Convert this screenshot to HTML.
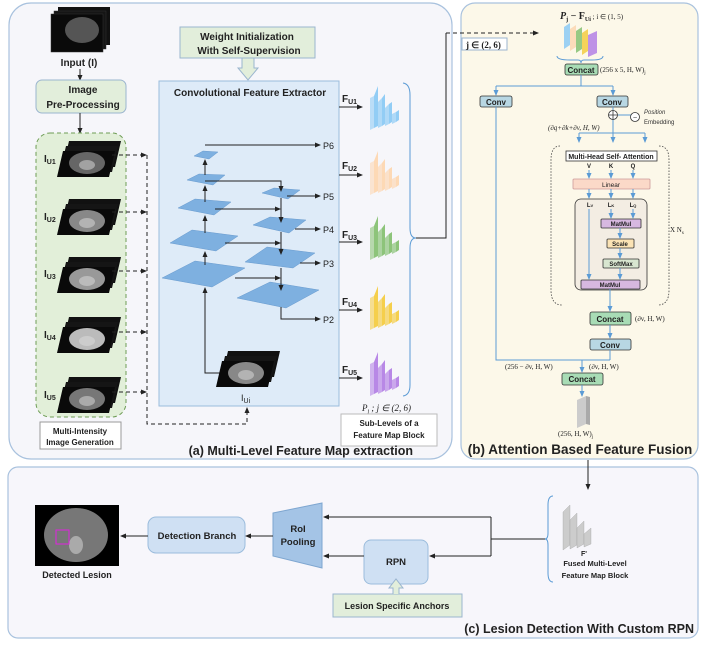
<!DOCTYPE html>
<html><head><meta charset="utf-8"><style>
html,body{margin:0;padding:0;background:#fff}
svg{display:block;font-family:"Liberation Sans",sans-serif}
</style></head><body>
<svg width="706" height="645" viewBox="0 0 706 645" xmlns="http://www.w3.org/2000/svg">
<defs>
<marker id="ar" markerWidth="6" markerHeight="6" refX="5" refY="3" orient="auto" markerUnits="userSpaceOnUse"><path d="M0,0.5 L6,3 L0,5.5 z" fill="#222"/></marker>
<marker id="ab" markerWidth="6" markerHeight="6" refX="5" refY="3" orient="auto" markerUnits="userSpaceOnUse"><path d="M0,0.5 L6,3 L0,5.5 z" fill="#5b9bd5"/></marker>
<g id="fb">
 <path d="M0,12 L4,10 L4,42 L0,44z" fill="currentColor" opacity="0.6"/>
 <path d="M4,10 L8,0 L8,40 L4,42z" fill="currentColor"/>
 <path d="M8,16 L12,12 L12,40 L8,42z" fill="currentColor" opacity="0.7"/>
 <path d="M12,12 L15,8 L15,38 L12,40z" fill="currentColor"/>
 <path d="M15,22 L19,18 L19,38 L15,40z" fill="currentColor" opacity="0.7"/>
 <path d="M19,18 L22,16 L22,36 L19,38z" fill="currentColor"/>
 <path d="M22,28 L26,26 L26,36 L22,38z" fill="currentColor" opacity="0.7"/>
 <path d="M26,26 L29,24 L29,34 L26,36z" fill="currentColor"/>
</g>
<g id="ct">
 <path d="M6,0 L58,0 L52,26 L0,26z" fill="#111"/>
 <path d="M3,5 L55,5 L49,31 L-3,31z" fill="#151515"/>
 <path d="M0,10 L52,10 L46,36 L-6,36z" fill="#0a0a0a"/>
 <ellipse cx="24" cy="22" rx="18" ry="11" fill="currentColor"/>
 <ellipse cx="24" cy="24" rx="8" ry="5" fill="#ddd" opacity="0.5"/>
</g>
</defs>

<!-- Panel a -->
<rect x="9" y="3" width="443" height="456" rx="22" fill="#f6f6fa" stroke="#a9c2de" stroke-width="1.2"/>
<!-- Panel b -->
<rect x="461" y="3" width="237" height="456" rx="14" fill="#fcf8e9" stroke="#a9c2de" stroke-width="1.2"/>
<!-- Panel c -->
<rect x="8" y="467" width="690" height="171" rx="10" fill="#f7f6fb" stroke="#a9c2de" stroke-width="1.2"/>

<!-- Input -->
<rect x="58" y="7" width="52" height="38" fill="#111"/>
<rect x="54" y="11" width="52" height="38" fill="#151515" stroke="#333" stroke-width="0.5"/>
<rect x="51" y="14" width="52" height="38" fill="#0a0a0a" stroke="#333" stroke-width="0.5"/>
<ellipse cx="82" cy="30" rx="17" ry="13" fill="#555"/>
<text x="79" y="66" font-size="10" font-weight="bold" text-anchor="middle" fill="#222">Input (I)</text>
<line x1="80" y1="69" x2="80" y2="80" stroke="#222" marker-end="url(#ar)"/>
<rect x="36" y="80" width="90" height="33" rx="6" fill="#e2eedb" stroke="#9bb5cf"/>
<text x="83" y="93" font-size="10" font-weight="bold" text-anchor="middle" fill="#222">Image</text>
<text x="83" y="108" font-size="10" font-weight="bold" text-anchor="middle" fill="#222">Pre-Processing</text>
<line x1="80" y1="113" x2="80" y2="133" stroke="#222" marker-end="url(#ar)"/>
<rect x="36" y="133" width="90" height="284" rx="14" fill="#e2efd9" stroke="#6e9c55" stroke-dasharray="4,3"/>
<g font-size="10" font-weight="bold" fill="#222">
<text x="44" y="162">I<tspan font-size="7" dy="2">U1</tspan></text>
<text x="44" y="220">I<tspan font-size="7" dy="2">U2</tspan></text>
<text x="44" y="277">I<tspan font-size="7" dy="2">U3</tspan></text>
<text x="44" y="338">I<tspan font-size="7" dy="2">U4</tspan></text>
<text x="44" y="398">I<tspan font-size="7" dy="2">U5</tspan></text>
</g>
<use href="#ct" x="63" y="141" color="#666"/>
<use href="#ct" x="63" y="199" color="#888"/>
<use href="#ct" x="63" y="257" color="#999"/>
<use href="#ct" x="63" y="317" color="#bbb"/>
<use href="#ct" x="63" y="377" color="#777"/>
<g stroke="#222" stroke-dasharray="4,3" fill="none">
<line x1="112" y1="155" x2="146" y2="155" marker-end="url(#ar)"/>
<line x1="112" y1="212" x2="146" y2="212" marker-end="url(#ar)"/>
<line x1="112" y1="271" x2="146" y2="271" marker-end="url(#ar)"/>
<line x1="112" y1="332" x2="146" y2="332" marker-end="url(#ar)"/>
<line x1="112" y1="392" x2="146" y2="392" marker-end="url(#ar)"/>
<polyline points="147,155 147,424 247,424 247,408" marker-end="url(#ar)"/>
</g>
<rect x="40" y="422" width="81" height="27" fill="#fff" stroke="#999"/>
<text x="80" y="434" font-size="8" font-weight="bold" text-anchor="middle" fill="#222">Multi-Intensity</text>
<text x="80" y="445" font-size="8" font-weight="bold" text-anchor="middle" fill="#222">Image Generation</text>

<!-- Weight init -->
<rect x="180" y="27" width="135" height="31" fill="#e2eedb" stroke="#9bb5cf"/>
<text x="247" y="40" font-size="10" font-weight="bold" text-anchor="middle" fill="#222">Weight Initialization</text>
<text x="249" y="54" font-size="10" font-weight="bold" text-anchor="middle" fill="#222">With Self-Supervision</text>
<path d="M242,58 L254,58 L254,68 L258,68 L248,80 L238,68 L242,68z" fill="#e2eedb" stroke="#9bb5cf"/>

<!-- Conv extractor -->
<rect x="159" y="81" width="180" height="325" fill="#deebf8" stroke="#9bbcdc"/>
<text x="250" y="96" font-size="10" font-weight="bold" text-anchor="middle" fill="#222">Convolutional Feature Extractor</text>
<g fill="#7eb0e0" stroke="#5a8fc6" stroke-width="0.4">
<polygon points="194,156 203,151 218,152 209,159"/>
<polygon points="187,180 199,174 225,175 213,185"/>
<polygon points="178,208 195,199 231,202 214,215"/>
<polygon points="170,243 192,230 238,236 216,251"/>
<polygon points="162,278 195,261 245,268 212,287"/>
<polygon points="262,193 274,188 300,190 288,199"/>
<polygon points="253,225 270,217 306,220 289,233"/>
<polygon points="245,262 267,247 315,253 293,268"/>
<polygon points="237,298 270,282 319,290 286,308"/>
</g>
<g stroke="#222" fill="none" stroke-width="1">
<polyline points="205,145 320,145" marker-end="url(#ar)"/>
<line x1="205" y1="175" x2="205" y2="160" marker-end="url(#ar)"/>
<line x1="205" y1="202" x2="205" y2="186" marker-end="url(#ar)"/>
<line x1="205" y1="233" x2="205" y2="216" marker-end="url(#ar)"/>
<line x1="205" y1="265" x2="205" y2="252" marker-end="url(#ar)"/>
<polyline points="220,373 205,373 205,288" marker-end="url(#ar)"/>
<polyline points="205,181 281,181 281,191" marker-end="url(#ar)"/>
<polyline points="215,209 280,209" marker-end="url(#ar)"/>
<polyline points="225,243 280,243" marker-end="url(#ar)"/>
<polyline points="235,278 280,278" marker-end="url(#ar)"/>
<line x1="281" y1="198" x2="281" y2="222" marker-end="url(#ar)"/>
<line x1="281" y1="232" x2="281" y2="254" marker-end="url(#ar)"/>
<line x1="281" y1="268" x2="281" y2="290" marker-end="url(#ar)"/>
<line x1="287" y1="196" x2="320" y2="196" marker-end="url(#ar)"/>
<line x1="295" y1="229" x2="320" y2="229" marker-end="url(#ar)"/>
<line x1="300" y1="263" x2="320" y2="263" marker-end="url(#ar)"/>
<polyline points="281,307 281,319 320,319" marker-end="url(#ar)"/>
</g>
<g font-size="9" fill="#222">
<text x="323" y="149">P6</text><text x="323" y="200">P5</text><text x="323" y="233">P4</text><text x="323" y="267">P3</text><text x="323" y="323">P2</text>
</g>
<use href="#ct" x="222" y="351" color="#888"/>
<text x="241" y="401" font-size="9" fill="#222">I<tspan font-size="7" dy="2">Ui</tspan></text>

<!-- F_U -->
<g font-size="10" font-weight="bold" fill="#222">
<text x="342" y="102">F<tspan font-size="7" dy="2">U1</tspan></text>
<text x="342" y="169">F<tspan font-size="7" dy="2">U2</tspan></text>
<text x="342" y="238">F<tspan font-size="7" dy="2">U3</tspan></text>
<text x="342" y="305">F<tspan font-size="7" dy="2">U4</tspan></text>
<text x="342" y="373">F<tspan font-size="7" dy="2">U5</tspan></text>
</g>
<g stroke="#222"><line x1="339" y1="107" x2="362" y2="107" marker-end="url(#ar)"/>
<line x1="339" y1="175" x2="362" y2="175" marker-end="url(#ar)"/>
<line x1="339" y1="242" x2="362" y2="242" marker-end="url(#ar)"/>
<line x1="339" y1="310" x2="362" y2="310" marker-end="url(#ar)"/>
<line x1="339" y1="378" x2="362" y2="378" marker-end="url(#ar)"/></g>
<use href="#fb" x="370" y="86" color="#92cdf5"/>
<use href="#fb" x="370" y="151" color="#fdd9b5"/>
<use href="#fb" x="370" y="216" color="#8dc47a"/>
<use href="#fb" x="370" y="286" color="#f5cf4c"/>
<use href="#fb" x="370" y="352" color="#b888e6"/>
<path d="M403,83 Q410,84 410,95 L410,228 Q410,238 416,238 Q410,238 410,248 L410,385 Q410,395 403,396" fill="none" stroke="#5b9bd5"/>
<polyline points="416,238 446,238 446,33" fill="none" stroke="#222"/>
<line x1="446" y1="33" x2="538" y2="33" stroke="#222" stroke-dasharray="4,3" marker-end="url(#ar)"/>
<rect x="462" y="38" width="45" height="12" fill="#fff" stroke="#9bb5cf"/>
<text x="466" y="48" font-size="9" font-weight="bold" fill="#222" font-family="Liberation Serif">j ∈ (2, 6)</text>
<text x="362" y="411" font-size="9" font-style="italic" fill="#222" font-family="Liberation Serif">P<tspan font-size="6" dy="2">j</tspan><tspan dy="-2"> ; j ∈ (2, 6)</tspan></text>
<rect x="341" y="414" width="96" height="32" fill="#fff" stroke="#bbb"/>
<text x="389" y="426" font-size="8" font-weight="bold" text-anchor="middle" fill="#222">Sub-Levels of a</text>
<text x="389" y="438" font-size="8" font-weight="bold" text-anchor="middle" fill="#222">Feature Map Block</text>
<text x="413" y="455" font-size="12.5" font-weight="bold" text-anchor="end" fill="#222">(a) Multi-Level Feature Map extraction</text>

<!-- Panel b contents -->
<text x="560" y="19" font-size="10" font-weight="bold" fill="#222" font-family="Liberation Serif"><tspan font-style="italic">P</tspan><tspan font-size="6" dy="2">j</tspan><tspan dy="-2"> − F</tspan><tspan font-size="6" dy="2">Ui</tspan><tspan dy="-2" font-size="7" font-weight="normal">   ; i ∈ (1, 5)</tspan></text>
<g opacity="0.9">
<path d="M564,27 L570,23 L570,45 L564,49z" fill="#92cdf5"/>
<path d="M570,29 L576,25 L576,47 L570,51z" fill="#fdd9b5"/>
<path d="M576,31 L582,27 L582,49 L576,53z" fill="#8dc47a"/>
<path d="M582,33 L588,29 L588,51 L582,55z" fill="#f5cf4c"/>
<path d="M588,35 L597,31 L597,53 L588,57z" fill="#b888e6"/>
</g>
<path d="M557,56 Q557,60 570,60 L578,60 Q581,60 581,63 Q581,60 584,60 L592,60 Q603,60 603,56" fill="none" stroke="#5b9bd5"/>
<g stroke="#333" stroke-width="0.8">
<rect x="565" y="64" width="33" height="11" rx="2" fill="#a8dcb5"/>
<rect x="480" y="96" width="32" height="11" rx="2" fill="#b8d7e3"/>
<rect x="597" y="96" width="31" height="11" rx="2" fill="#b8d7e3"/>
<rect x="566" y="151" width="91" height="10" fill="#fff"/>
<rect x="573" y="179" width="77" height="10" rx="1" fill="#fbd9c8" stroke="#c99"/>
<rect x="575" y="199" width="72" height="91" rx="6" fill="#f3ede3"/>
<rect x="601" y="219" width="40" height="9" rx="1" fill="#d7b8e0"/>
<rect x="607" y="239" width="27" height="9" rx="1" fill="#fbe3b5"/>
<rect x="603" y="259" width="36" height="9" rx="1" fill="#d8e6d0"/>
<rect x="581" y="280" width="59" height="9" rx="1" fill="#d7b8e0"/>
<rect x="590" y="312" width="41" height="13" rx="2" fill="#a8dcb5"/>
<rect x="590" y="339" width="41" height="11" rx="2" fill="#b8d7e3"/>
<rect x="562" y="373" width="41" height="12" rx="2" fill="#a8dcb5"/>
</g>
<g font-size="8" font-weight="bold" fill="#222" text-anchor="middle">
<text x="581" y="73">Concat</text><text x="496" y="105">Conv</text><text x="612" y="105">Conv</text>
<text x="611" y="159" font-size="7">Multi-Head Self- Attention</text>
<text x="611" y="187" font-size="6.5" font-weight="normal">Linear</text>
<text x="621" y="226" font-size="6">MatMul</text><text x="620" y="246" font-size="6">Scale</text>
<text x="621" y="266" font-size="6">SoftMax</text><text x="610" y="287" font-size="6">MatMul</text>
<text x="610" y="322">Concat</text><text x="610" y="348">Conv</text><text x="582" y="382">Concat</text>
<text x="589" y="168" font-size="6">V</text><text x="611" y="168" font-size="6">K</text><text x="633" y="168" font-size="6">Q</text>
<text x="590" y="207" font-size="6">L<tspan font-size="4">V</tspan></text><text x="611" y="207" font-size="6">L<tspan font-size="4">K</tspan></text><text x="633" y="207" font-size="6">L<tspan font-size="4">Q</tspan></text>
</g>
<g font-family="Liberation Serif" font-size="7" fill="#222">
<text x="600" y="72">(256 x 5, H, W)<tspan font-size="5" dy="2">j</tspan></text>
<text x="548" y="130" font-style="italic">(∂q+∂k+∂v, H, W)</text>
<text x="635" y="321">(∂v, H, W)</text>
<text x="505" y="369">(256 − ∂v, H, W)</text>
<text x="589" y="369">(∂v, H, W)</text>
<text x="558" y="436">(256, H, W)<tspan font-size="5" dy="2">j</tspan></text>
<text x="670" y="232">X N<tspan font-size="5" dy="2">s</tspan></text>
</g>
<text x="644" y="114" font-size="6" font-style="italic" fill="#333">Position</text>
<text x="644" y="124" font-size="6" fill="#333">Embedding</text>
<g stroke="#5b9bd5" fill="none" stroke-width="1">
<polyline points="581,75 581,86"/>
<line x1="496" y1="86" x2="613" y2="86"/>
<line x1="496" y1="86" x2="496" y2="95" marker-end="url(#ab)"/>
<line x1="613" y1="86" x2="613" y2="95" marker-end="url(#ab)"/>
<line x1="613" y1="107" x2="613" y2="133"/>
<line x1="618" y1="115" x2="631" y2="115"/>
<line x1="579" y1="133" x2="645" y2="133"/>
<line x1="579" y1="133" x2="579" y2="142" marker-end="url(#ab)"/>
<line x1="613" y1="133" x2="613" y2="142" marker-end="url(#ab)"/>
<line x1="645" y1="133" x2="645" y2="142" marker-end="url(#ab)"/>
<line x1="589" y1="170" x2="589" y2="178" marker-end="url(#ab)"/>
<line x1="611" y1="170" x2="611" y2="178" marker-end="url(#ab)"/>
<line x1="633" y1="170" x2="633" y2="178" marker-end="url(#ab)"/>
<line x1="589" y1="189" x2="589" y2="198" marker-end="url(#ab)"/>
<line x1="611" y1="189" x2="611" y2="198" marker-end="url(#ab)"/>
<line x1="633" y1="189" x2="633" y2="198" marker-end="url(#ab)"/>
<line x1="589" y1="209" x2="589" y2="279" marker-end="url(#ab)"/>
<line x1="611" y1="209" x2="611" y2="218" marker-end="url(#ab)"/>
<line x1="633" y1="209" x2="633" y2="218" marker-end="url(#ab)"/>
<line x1="620" y1="228" x2="620" y2="238" marker-end="url(#ab)"/>
<line x1="620" y1="248" x2="620" y2="258" marker-end="url(#ab)"/>
<line x1="620" y1="268" x2="620" y2="279" marker-end="url(#ab)"/>
<line x1="610" y1="289" x2="610" y2="311" marker-end="url(#ab)"/>
<line x1="610" y1="325" x2="610" y2="338" marker-end="url(#ab)"/>
<polyline points="610,350 610,360"/>
<polyline points="496,107 496,360 610,360"/>
<line x1="582" y1="360" x2="582" y2="372" marker-end="url(#ab)"/>
<line x1="582" y1="385" x2="582" y2="396" marker-end="url(#ab)"/>
</g>
<circle cx="613" cy="115" r="4.5" fill="#fff" stroke="#333" stroke-width="0.8"/>
<path d="M608.5,115 H617.5 M613,110.5 V119.5" stroke="#333" stroke-width="0.8"/>
<circle cx="635" cy="117" r="4.5" fill="#fff" stroke="#333" stroke-width="0.8"/>
<text x="635" y="120" font-size="7" text-anchor="middle" fill="#333">~</text>
<path d="M560,146 Q551,146 551,160 L551,290 Q551,305 562,305" fill="none" stroke="#444" stroke-dasharray="1.5,1.5" stroke-width="0.8"/>
<path d="M659,146 Q669,146 669,160 L669,290 Q669,305 658,305" fill="none" stroke="#444" stroke-dasharray="1.5,1.5" stroke-width="0.8"/>
<path d="M577,400 L586,396 L586,424 L577,428z" fill="#ccc"/><path d="M586,396 L590,397 L590,425 L586,424z" fill="#aaa"/>
<text x="580" y="454" font-size="13.5" font-weight="bold" text-anchor="middle" fill="#222">(b) Attention Based Feature Fusion</text>

<!-- Panel c -->
<line x1="588" y1="460" x2="588" y2="489" stroke="#222" marker-end="url(#ar)"/>
<path d="M553,496 Q548,496 548,505 L548,533 Q548,539 545,539 Q548,539 548,545 L548,573 Q548,582 553,582" fill="none" stroke="#5b9bd5"/>
<g fill="#ccc" stroke="#999" stroke-width="0.3">
<path d="M563,512 L570,505 L570,545 L563,550z"/>
<path d="M570,520 L577,513 L577,545 L570,549z"/>
<path d="M577,528 L584,521 L584,544 L577,548z"/>
<path d="M584,534 L591,528 L591,544 L584,547z"/>
</g>
<text x="584" y="556" font-size="7" font-weight="bold" text-anchor="middle" fill="#222">F'</text>
<text x="595" y="566" font-size="7.5" font-weight="bold" text-anchor="middle" fill="#222">Fused Multi-Level</text>
<text x="595" y="578" font-size="7.5" font-weight="bold" text-anchor="middle" fill="#222">Feature Map Block</text>
<rect x="35" y="505" width="84" height="61" fill="#000"/>
<ellipse cx="76" cy="535" rx="32" ry="27" fill="#777"/>
<ellipse cx="76" cy="545" rx="7" ry="9" fill="#aaa"/>
<rect x="56" y="530" width="13" height="14" fill="none" stroke="#e020e0" stroke-width="1"/>
<text x="77" y="578" font-size="9" font-weight="bold" text-anchor="middle" fill="#222">Detected Lesion</text>
<rect x="148" y="517" width="97" height="36" rx="8" fill="#cfe0f3" stroke="#9bbcdc"/>
<text x="197" y="539" font-size="9.5" font-weight="bold" text-anchor="middle" fill="#222">Detection Branch</text>
<polygon points="273,513 322,503 322,568 273,556" fill="#a4c4e6" stroke="#7ea6d0"/>
<text x="298" y="532" font-size="9.5" font-weight="bold" text-anchor="middle" fill="#222">RoI</text>
<text x="298" y="545" font-size="9.5" font-weight="bold" text-anchor="middle" fill="#222">Pooling</text>
<rect x="364" y="540" width="64" height="44" rx="7" fill="#cfe0f3" stroke="#9bbcdc"/>
<text x="396" y="565" font-size="9.5" font-weight="bold" text-anchor="middle" fill="#222">RPN</text>
<rect x="333" y="594" width="129" height="23" fill="#e2eedb" stroke="#9bb5cf"/>
<text x="397" y="609" font-size="9" font-weight="bold" text-anchor="middle" fill="#222">Lesion Specific Anchors</text>
<path d="M393,594 L393,588 L389,588 L396,579 L403,588 L399,588 L399,594" fill="#e2eedb" stroke="#9bb5cf"/>
<g stroke="#222" fill="none">
<line x1="148" y1="536" x2="121" y2="536" marker-end="url(#ar)"/>
<line x1="273" y1="536" x2="246" y2="536" marker-end="url(#ar)"/>
<polyline points="545,539 491,539"/>
<polyline points="491,517 491,556"/>
<line x1="491" y1="517" x2="324" y2="517" marker-end="url(#ar)"/>
<line x1="491" y1="556" x2="430" y2="556" marker-end="url(#ar)"/>
<line x1="364" y1="556" x2="324" y2="556" marker-end="url(#ar)"/>
</g>
<text x="694" y="633" font-size="12.5" font-weight="bold" text-anchor="end" fill="#222">(c) Lesion Detection With Custom RPN</text>
</svg>
</body></html>
